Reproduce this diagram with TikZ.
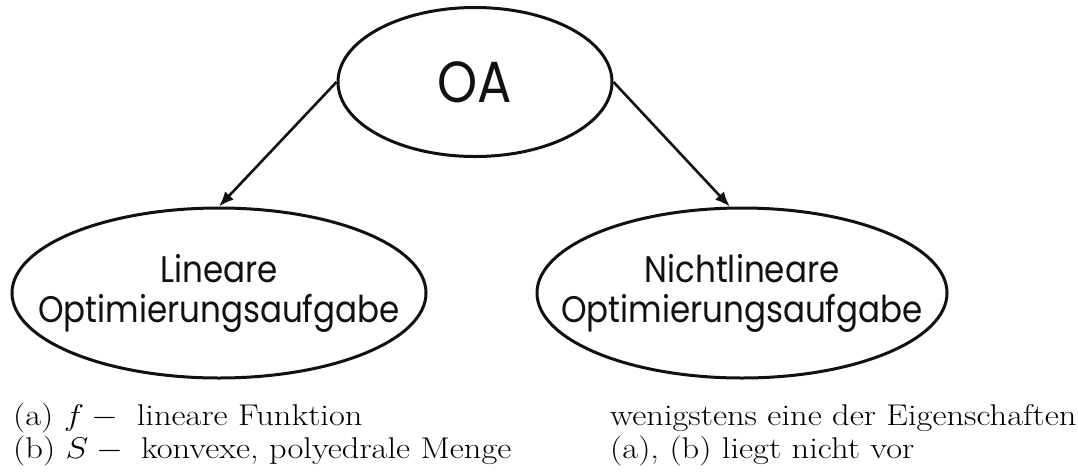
\RequirePackage{fix-cm}
\documentclass[tikz,border=0pt]{standalone}
\usepackage{fontspec}
\usepackage{graphicx}
\usepackage{tikz}
\usetikzlibrary{arrows.meta,positioning,shapes.geometric}
\newfontfamily\oafont[FakeStretch=0.88]{Poppins}
\definecolor{ink}{HTML}{111111}
\newcommand{\captext}[1]{\scalebox{1.15}[1]{#1}}
\tikzset{
  oval/.style={draw=ink, ellipse, line width=3pt, inner sep=-40pt, align=center,
               text=ink, font=\oafont\fontsize{37}{40}\selectfont},
  rootoval/.style={oval, inner sep=0pt, minimum width=274pt, minimum height=149pt,
                   font=\oafont\fontsize{58}{60}\selectfont},
  leafoval/.style={oval, minimum width=414pt, minimum height=170pt},
  arr/.style={-{Latex[length=15pt, width=12pt]}, line width=2.6pt, draw=ink},
  capline/.style={anchor=base west, inner sep=0pt, font=\fontsize{30}{36}\selectfont},
}

\begin{document}
\begin{tikzpicture}[x=1pt, y=-1pt]
\useasboundingbox (0,0) rectangle (1078,472);

\node[rootoval] (oa) at (475,82) {OA};
\node[leafoval] (lin) at (219,293) {Lineare\\Optimierungsaufgabe};
\node[leafoval, minimum width=410pt] (nlin) at (742,293) {Nichtlineare\\Optimierungsaufgabe};

\draw[arr] (oa.west) -- (lin.north);
\draw[arr] (oa.east) -- (nlin.98);

% Bedingungen unter den Knoten
\node[capline] (capa) at (13,425) {\captext{(a) $f -{}$ lineare Funktion}};
\node[capline] (capb) at (13,458) {\captext{(b) $S -{}$ konvexe, polyedrale Menge}};
\node[capline] (capc) at (610,425) {\captext{wenigstens eine der Eigenschaften}};
\node[capline] (capd) at (610,458) {\captext{(a), (b) liegt nicht vor}};

\end{tikzpicture}
\end{document}
